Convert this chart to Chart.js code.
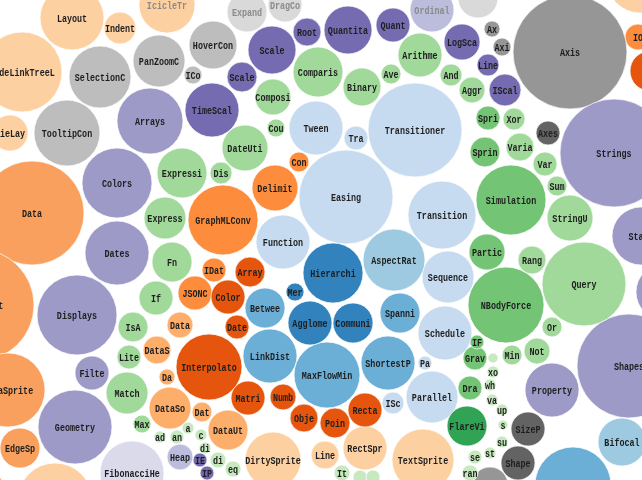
<!DOCTYPE html>
<html><head><meta charset="utf-8">
<script src="https://cdn.jsdelivr.net/npm/chart.js@4"></script>
<style>html,body{margin:0;padding:0;background:#fff;overflow:hidden}#wrap{width:642px;height:480px}</style>
</head><body><div id="wrap"><canvas id="c" width="642" height="480"></canvas></div>
<script>
// Bubble labels (as displayed, truncated like the original)
const names = [
 "Layout","Indent","IcicleTr","NodeLinkTreeL","PieLay","DirtySprite","Line","RectSpr","TextSprite","","",
 "GraphMLConv","Delimit","Con","IDat","JSONC","Data","AxisLayout","DataSprite","EdgeSp","IO","",
 "Data","DataS","Da","DataSo","Dat","DataUt",
 "Interpolato","Array","Color","Date","Matri","Numb","Obje","Recta","Poin","Vi",
 "SelectionC","PanZoomC","TooltipCon","HoverCon","ICo","Expand","DragCo","","Axis","Ax","Axi","Axes","SizeP","Shape","Dela",
 "Scale","Root","Scale","TimeScal","Quantita","Quant","LogSca","Line","IScal","IE","IP",
 "Arrays","Colors","Dates","Displays","Filte","Geometry","Strings","Stats","Shapes","Property","",
 "Ordinal","Heap","FibonacciHe",
 "Tween","Tra","Transitioner","Easing","Transition","Function","Sequence","Schedule","Parallel","ISc","Pa",
 "AspectRat","Bifocal",
 "Betwee","LinkDist","MaxFlowMin","ShortestP","Spanni","LegendRange",
 "Hierarchi","Mer","Agglome","Communi",
 "Comparis","Composi","Cou","DateUti","Binary","Ave","Arithme","And","Aggr","Xor","Varia","Var","Sum","StringU","Rang","Query","Or","Not","Min",
 "Expressi","Dis","Express","Fn","If","IsA","Lite","Match","Max",
 "Spri","Sprin","Simulation","Partic","NBodyForce","Grav","Dra","IF",
 "FlareVi",
 "_","xo","wh","va","up","s","su","st","se","ran","a","an","ad","c","di","di","eq","It","_","_"
];
// Bubble centre x values
const xs = [
 72,120,167,22,10,273,325,365,423,55,640,
 223,275,299,214,195,32,-22,8,20,638,-15,
 180,157,167,170,202,228,
 209,250,228,237,248,283,304,365,335,650,
 100,159,67,213,193,247,285,478,570,492,502,548,528,518,490,
 272,307,242,212,348,393,462,488,505,200,207,
 150,117,117,77,92,75,614,641,629,552,664,
 432,180,132,
 316,356,415,346,442,283,448,445,432,393,425,
 394,622,
 265,270,327,388,400,573,
 333,295,310,353,
 318,273,276,245,362,391,420,451,472,514,520,545,557,570,532,584,552,537,512,
 182,221,165,172,156,133,129,127,142,
 488,485,511,487,506,475,470,477,
 467,
 493,493,490,492,502,503,502,490,475,470,188,177,160,201,205,218,233,342,360,373
];
// Bubble centre y values
const ys = [
 18,28,5,72,133,460,455,448,460,500,-20,
 220,188,162,270,293,213,305,390,448,37,487,
 325,350,377,408,412,430,
 367,272,297,327,398,397,418,410,423,71,
 77,61,133,45,75,12,5,-2,52,29,47,133,429,463,485,
 50,32,77,110,30,25,42,65,90,460,473,
 121,183,253,315,373,427,153,236,366,390,292,
 10,457,473,
 128,138,130,197,215,242,277,333,397,403,363,
 260,442,
 308,356,375,363,313,485,
 273,292,323,323,
 72,97,128,148,87,74,55,75,90,119,147,164,186,218,260,284,327,351,355,
 173,173,218,262,298,327,357,393,424,
 118,152,200,252,305,358,388,342,
 426,
 358,372,385,400,410,425,442,453,457,473,428,437,437,435,448,460,469,473,477,477
];
// Bubble sizes (radius values)
const sizes = [
 32,16,28,40,18,28,14,22,31,37,33,
 35,23,10,12,17,52,56,37,20,13,18,
 13,14,8,21,10,20,
 33,15,17,12,17,13,14,17,15,20,
 31,26,33,24,9,20,17,20,57,8,9,12,17,17,18,
 24,14,15,27,24,17,18,11,16,7,7,
 33,35,32,40,17,37,54,29,52,27,28,
 22,13,32,
 27,12,47,47,34,27,26,27,26,11,7,
 31,24,
 20,27,33,27,20,38,
 30,9,22,20,
 25,18,9,23,19,10,22,11,13,11,14,12,10,23,14,42,10,13,10,
 25,11,21,20,17,15,12,21,9,
 12,15,35,18,38,12,12,7,
 20,
 5,6,6,6,6,5,6,6,7,8,6,7,6,6,6,8,8,8,7,7
];
// Package group of each bubble
const groups = [
 "p4","p4","p4","p4","p4","p4","p4","p4","p4","p4","p4",
 "o2","o2","o2","o2","o2","oL","oL","oL","oL","o2","oL",
 "o3","o3","o3","o3","o3","o3",
 "o1","o1","o1","o1","o1","o1","o1","o1","o1","o1",
 "g3","g3","g3","g3","g3","g4","g4","g4","g2","g2","g2","g1","g1","g1","g2",
 "u1","u1","u1","u1","u1","u1","u1","u1","u1","u1","u1",
 "u2","u2","u2","u2","u2","u2","u2","u2","u2","u2","u2",
 "u3","u3","u4",
 "b4","b4","b4","b4","b4","b4","b4","b4","b4","b4","b4",
 "b3","b3",
 "b2","b2","b2","b2","b2","b2",
 "b1","b1","b1","b1",
 "e3","e3","e3","e3","e3","e3","e3","e3","e3","e3","e3","e3","e3","e3","e3","e3","e3","e3","e3",
 "e3","e3","e3","e3","e3","e3","e3","e3","e3",
 "e2","e2","e2","e2","e2","e2","e2","e2",
 "e1",
 "e4","e4","e4","e4","e4","e4","e4","e4","e4","e4","e4","e4","e4","e4","e4","e4","e4","e4","e4","e4"
];
const palette = {
 b1:"#3182bd",b2:"#6baed6",b3:"#9ecae1",b4:"#c6dbef",
 o1:"#e6550d",o2:"#fd8d3c",oL:"#f9a05f",o3:"#fdae6b",p4:"#fdd0a2",
 e1:"#31a354",e2:"#74c476",e3:"#a1d99b",e4:"#c7e9c0",
 u1:"#756bb1",u2:"#9e9ac8",u3:"#bcbddc",u4:"#dadaeb",
 g1:"#636363",g2:"#969696",g3:"#bdbdbd",g4:"#d9d9d9"
};
// labels drawn in a lighter tone (faded bubbles along the top edge)
const fadedLabels = ["IcicleTr","Expand","DragCo","Ordinal"];

const labelPlugin = {
 id: "bubbleLabels",
 afterDatasetsDraw(chart) {
  const ctx = chart.ctx;
  const meta = chart.getDatasetMeta(0);
  ctx.save();
  ctx.font = 'bold 10px "Liberation Mono", monospace';
  ctx.textAlign = "center";
  ctx.textBaseline = "middle";
  meta.data.forEach((el, i) => {
   const t = names[i];
   if (!t || t === "_") return;
   ctx.save();
   ctx.fillStyle = fadedLabels.includes(t) ? "#8a8a8a" : "#1e1e1e";
   ctx.translate(el.x, el.y + 1);
   ctx.scale(0.84, 1);
   ctx.fillText(t, 0, 0);
   ctx.restore();
  });
  ctx.restore();
 }
};

new Chart(document.getElementById("c"), {
 type: "bubble",
 data: {
  datasets: [{
   data: xs.map((x, i) => ({ x: x, y: ys[i], r: sizes[i] })),
   backgroundColor: groups.map(g => palette[g]),
   borderColor: "rgba(255,255,255,0.7)",
   borderWidth: 1,
   clip: false
  }]
 },
 options: {
  responsive: false,
  devicePixelRatio: 1,
  animation: false,
  events: [],
  layout: { padding: 0, autoPadding: false },
  plugins: { legend: { display: false }, tooltip: { enabled: false } },
  scales: {
   x: { type: "linear", min: 0, max: 642, display: false },
   y: { type: "linear", min: 0, max: 480, reverse: true, display: false }
  }
 },
 plugins: [labelPlugin]
});
</script>
</body></html>
